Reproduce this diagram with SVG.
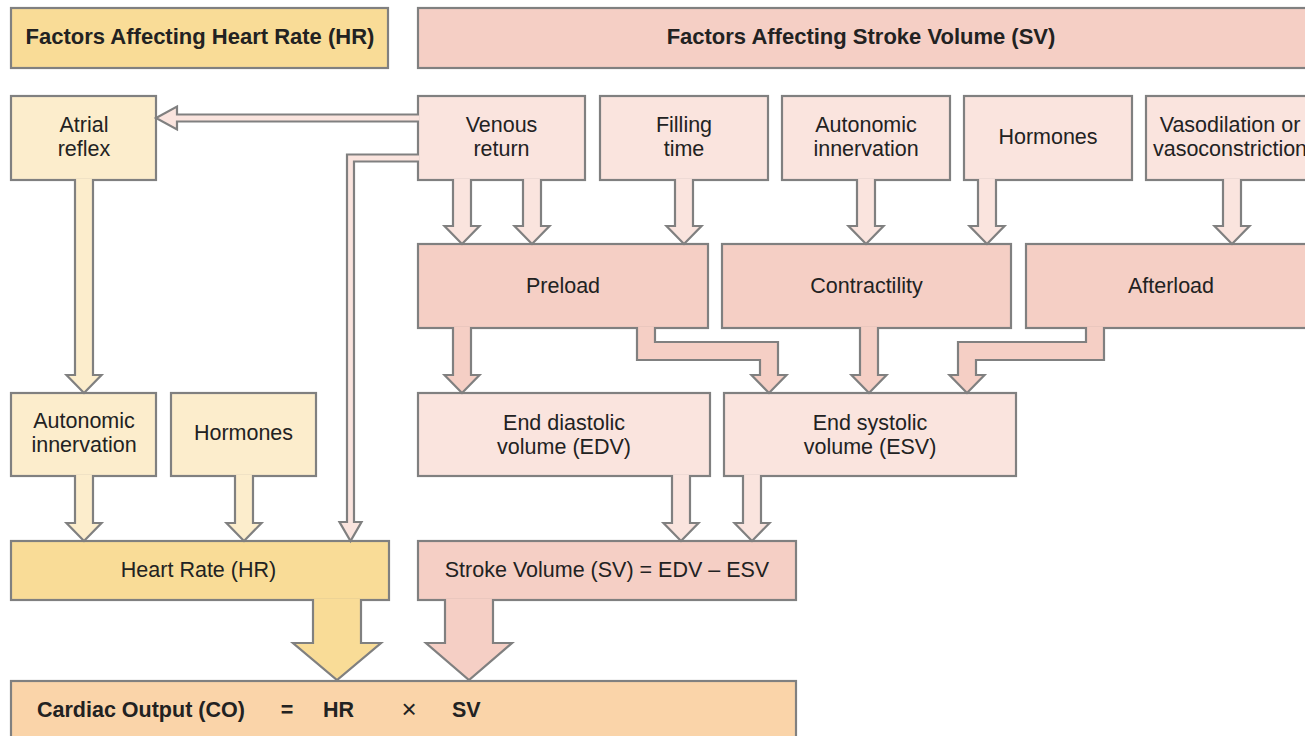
<svg xmlns="http://www.w3.org/2000/svg" width="1305" height="736" viewBox="0 0 1305 736">
<style>
.box{stroke:#808080;stroke-width:2.2}
.yh{fill:#f9dc97}
.yl{fill:#fcedcc}
.pd{fill:#f5cfc5}
.pl{fill:#fae4de}
.co{fill:#fad4a9}
.ar{stroke:#808080;stroke-width:2.2;stroke-linejoin:miter}
text{font-family:"Liberation Sans",Arial,sans-serif;fill:#222;font-size:21.5px}
.c{text-anchor:middle}
.b{font-weight:bold}
.h{font-size:22px}
</style>
<rect width="1305" height="736" fill="#ffffff"/>
<g id="nodes">
<g id="hdr-hr"><rect class="box yh" x="11" y="8" width="377" height="60"/><text class="c b h" x="200" y="44">Factors Affecting Heart Rate (HR)</text></g>
<g id="hdr-sv"><rect class="box pd" x="418" y="8" width="900" height="60"/><text class="c b h" x="861" y="44">Factors Affecting Stroke Volume (SV)</text></g>
<g id="atrial"><rect class="box yl" x="11" y="96" width="145" height="84"/><text class="c" x="84" y="132">Atrial</text><text class="c" x="84" y="156">reflex</text></g>
<g id="venous"><rect class="box pl" x="418" y="96" width="167" height="84"/><text class="c" x="501.5" y="132">Venous</text><text class="c" x="501.5" y="156">return</text></g>
<g id="filling"><rect class="box pl" x="600" y="96" width="168" height="84"/><text class="c" x="684" y="132">Filling</text><text class="c" x="684" y="156">time</text></g>
<g id="auto-sv"><rect class="box pl" x="782" y="96" width="168" height="84"/><text class="c" x="866" y="132">Autonomic</text><text class="c" x="866" y="156">innervation</text></g>
<g id="horm-sv"><rect class="box pl" x="964" y="96" width="168" height="84"/><text class="c" x="1048" y="144">Hormones</text></g>
<g id="vaso"><rect class="box pl" x="1146" y="96" width="175" height="84"/><text class="c" x="1230" y="132">Vasodilation or</text><text class="c" x="1230" y="156">vasoconstriction</text></g>
<g id="preload"><rect class="box pd" x="418" y="244" width="290" height="84"/><text class="c" x="563" y="293">Preload</text></g>
<g id="contract"><rect class="box pd" x="722" y="244" width="289" height="84"/><text class="c" x="866.5" y="293">Contractility</text></g>
<g id="afterload"><rect class="box pd" x="1026" y="244" width="290" height="84"/><text class="c" x="1171" y="293">Afterload</text></g>
<g id="auto-hr"><rect class="box yl" x="11" y="393" width="145" height="83"/><text class="c" x="84" y="428">Autonomic</text><text class="c" x="84" y="452">innervation</text></g>
<g id="horm-hr"><rect class="box yl" x="171" y="393" width="145" height="83"/><text class="c" x="243.5" y="440">Hormones</text></g>
<g id="edv"><rect class="box pl" x="418" y="393" width="292" height="83"/><text class="c" x="564" y="430">End diastolic</text><text class="c" x="564" y="454">volume (EDV)</text></g>
<g id="esv"><rect class="box pl" x="724" y="393" width="292" height="83"/><text class="c" x="870" y="430">End systolic</text><text class="c" x="870" y="454">volume (ESV)</text></g>
<g id="hr"><rect class="box yh" x="11" y="541" width="378" height="59"/><text class="c" x="198.5" y="577">Heart Rate (HR)</text></g>
<g id="sv"><rect class="box pd" x="418" y="541" width="378" height="59"/><text class="c" x="607" y="577">Stroke Volume (SV) = EDV – ESV</text></g>
<g id="co"><rect class="box co" x="11" y="681" width="785" height="70"/><text class="b" x="37" y="717">Cardiac Output (CO)</text><text class="b c" x="287" y="717">=</text><text class="b" x="323" y="717">HR</text><text class="c" x="409" y="718" style="font-size:26px">×</text><text class="b" x="452" y="717">SV</text></g>
</g>
<g id="connectors">
<path class="ar pl" d="M453,179 V226 H444.5 L462,244 L479.5,226 H471 V179"/>
<path class="ar pl" d="M523,179 V226 H514.5 L532,244 L549.5,226 H541 V179"/>
<path class="ar pl" d="M675,179 V226 H666.5 L684,244 L701.5,226 H693 V179"/>
<path class="ar pl" d="M857,179 V226 H848.5 L866,244 L883.5,226 H875 V179"/>
<path class="ar pl" d="M978,179 V226 H969.5 L987,244 L1004.5,226 H996 V179"/>
<path class="ar pl" d="M1223,179 V226 H1214.5 L1232,244 L1249.5,226 H1241 V179"/>
<path class="ar pd" d="M453,327 V375 H444.5 L462,393 L479.5,375 H471 V327"/>
<path class="ar pd" d="M637,327 V360 H760 V375 H751.5 L769,393 L786.5,375 H778 V342 H655 V327"/>
<path class="ar pd" d="M860,327 V375 H851.5 L869,393 L886.5,375 H878 V327"/>
<path class="ar pd" d="M1086,327 V342 H958 V375 H949.5 L967,393 L984.5,375 H976 V360 H1104 V327"/>
<path class="ar yl" d="M75,179 V375 H66.5 L84,393 L101.5,375 H93 V179"/>
<path class="ar yl" d="M75,475 V523 H66.5 L84,541 L101.5,523 H93 V475"/>
<path class="ar yl" d="M235,475 V523 H226.5 L244,541 L261.5,523 H253 V475"/>
<path class="ar pl" d="M672,475 V523 H663.5 L681,541 L698.5,523 H690 V475"/>
<path class="ar pl" d="M743,475 V523 H734.5 L752,541 L769.5,523 H761 V475"/>
<path class="ar yh" d="M313,599 V643 H293 L337,680 L381,643 H361 V599"/>
<path class="ar pd" d="M445,599 V643 H426 L469,680 L512,643 H493 V599"/>
<path class="ar pl" d="M419,114.5 H177 V106.5 L156,118 L177,129.5 V121.5 H419"/>
<path class="ar pl" d="M419,154.5 H347 V522 H339.5 L350.5,541 L361.5,522 H354 V161.5 H419"/>
</g>
</svg>
